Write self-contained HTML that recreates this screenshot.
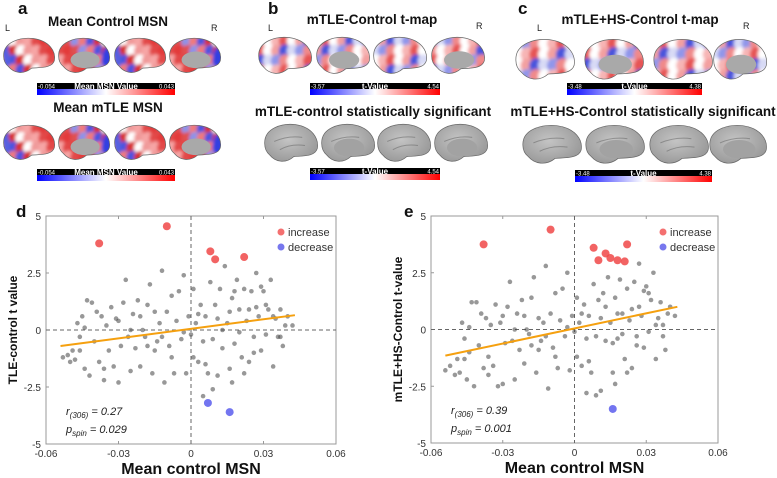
<!DOCTYPE html>
<html><head><meta charset="utf-8"><style>
body{margin:0;background:#fff;width:777px;height:478px;overflow:hidden;font-family:"Liberation Sans",sans-serif}
svg{display:block}
</style></head><body>
<svg id="fig" width="777" height="478" viewBox="0 0 777 478">
<defs>
<linearGradient id="cb" x1="0" x2="1" y1="0" y2="0"><stop offset="0" stop-color="#0000ff"/><stop offset="0.5" stop-color="#ffffff"/><stop offset="1" stop-color="#ff0000"/></linearGradient>
<radialGradient id="gr" cx="0.45" cy="0.4" r="0.75"><stop offset="0" stop-color="#c4c4c4"/><stop offset="1" stop-color="#8c8c8c"/></radialGradient>
<filter id="bl" x="-10%" y="-10%" width="120%" height="120%"><feGaussianBlur stdDeviation="1.6"/></filter>
</defs>
<g font-weight="bold" font-size="17" fill="#111">
<text x="18" y="14">a</text>
<text x="268" y="14">b</text>
<text x="518" y="14">c</text>
<text x="16" y="217">d</text>
<text x="404" y="217">e</text>
</g>
<g font-weight="bold" font-size="13.5" fill="#111" text-anchor="middle">
<text x="108" y="26">Mean Control MSN</text>
<text x="108" y="112">Mean mTLE MSN</text>
<text x="372" y="24">mTLE-Control t-map</text>
<text x="373" y="116">mTLE-control statistically significant</text>
<text x="640" y="24">mTLE+HS-Control t-map</text>
<text x="643" y="116">mTLE+HS-Control statistically significant</text>
</g>
<g font-size="9" fill="#222">
<text x="5" y="31">L</text><text x="211" y="31">R</text>
<text x="268" y="31">L</text><text x="476" y="29">R</text>
<text x="537" y="31">L</text><text x="743" y="29">R</text>
</g>
<g id="brains"></g>
<g id="bars"></g>
<g id="plotd"></g>
<g id="plote"></g>
</svg>
<script>
const NS='http://www.w3.org/2000/svg';
function mk(tag,attrs,parent){const e=document.createElementNS(NS,tag);for(const k in attrs)e.setAttribute(k,attrs[k]);parent.appendChild(e);return e;}
// ---------- brains (decorative) ----------
const brainsG=document.getElementById('brains');
let bid=0;
function brain(x,y,w,h,medial,mode){
  bid++;
  const g=mk('g',{},brainsG);
  
  
  const cp=mk('clipPath',{id:'cp'+bid},g);
  const d=`M${x+w*0.03},${y+h*0.5} C${x+w*0.02},${y+h*0.12} ${x+w*0.35},${y} ${x+w*0.58},${y+h*0.04} C${x+w*0.88},${y+h*0.1} ${x+w},${y+h*0.38} ${x+w*0.97},${y+h*0.62} C${x+w*0.93},${y+h*0.82} ${x+w*0.72},${y+h*0.8} ${x+w*0.55},${y+h*0.82} C${x+w*0.4},${y+h*1.0} ${x+w*0.22},${y+h*0.95} ${x+w*0.12},${y+h*0.78} C${x+w*0.05},${y+h*0.7} ${x+w*0.03},${y+h*0.6} ${x+w*0.03},${y+h*0.5}Z`;
  mk('path',{d:d},cp);
  const inner=mk('g',{'clip-path':`url(#cp${bid})`},g);
  if(mode==='grey'){
    mk('rect',{x:x,y:y,width:w,height:h,fill:'url(#gr)'},inner);
    const s=mk('g',{stroke:'#6e6e6e','stroke-width':1,fill:'none',opacity:0.6},inner);
    mk('path',{d:`M${x+w*0.2},${y+h*0.45} Q${x+w*0.45},${y+h*0.3} ${x+w*0.7},${y+h*0.35}`},s);
    mk('path',{d:`M${x+w*0.3},${y+h*0.65} Q${x+w*0.5},${y+h*0.5} ${x+w*0.75},${y+h*0.55}`},s);
  } else {
    mk('rect',{x:x,y:y,width:w,height:h,fill:mode==='msn'?'#ef8a8a':'#f3c4c4'},inner);
    const cols=mode==='msn'?['#e33a3a','#f07a7a','#ffffff','#e24848','#8d93e8','#d83030','#f6a5a5','#e05050','#4a55e0','#f09a9a']:['#f08a8a','#ffffff','#9096ea','#e65555','#d8daf5','#f7b5b5','#4a54dc','#ffffff','#f3a0a0'];
    const fg=mk('g',{filter:'url(#bl)'},inner);
    for(let i=0;i<7;i++)for(let j=0;j<4;j++){
      const c=cols[(i*7+j*3+bid*5)%cols.length];
      mk('ellipse',{cx:x+(i+0.5)*w/7,cy:y+(j+0.5)*h/4,rx:w/9,ry:h/6,fill:c},fg);
    }
    if(medial&&mode==='msn')mk('ellipse',{cx:x+w*0.95,cy:y+h*0.55,rx:w*0.12,ry:h*0.3,fill:'#3340e0'},fg);
    if(mode==='msn'&&!medial)mk('ellipse',{cx:x+w*0.08,cy:y+h*0.55,rx:w*0.07,ry:h*0.25,fill:'#5560e0'},fg);
  }
  if(medial)mk('ellipse',{cx:x+w*0.52,cy:y+h*0.6,rx:w*0.27,ry:h*0.22,fill:mode==='grey'?'#a2a2a2':'#a9a9a9'},inner);
  mk('path',{d:d,fill:'none',stroke:'#666','stroke-width':0.7},g);
}
[[2,37],[57,37],[113,37],[168,37]].forEach((p,i)=>brain(p[0],p[1],54,38,i%2==1,'msn'));
[[2,124],[57,124],[113,124],[168,124]].forEach((p,i)=>brain(p[0],p[1],54,38,i%2==1,'msn'));
[[257,36],[315,36],[372,36],[430,36]].forEach((p,i)=>brain(p[0],p[1],56,40,i%2==1,'t'));
[[263,123],[320,123],[376,123],[433,123]].forEach((p,i)=>brain(p[0],p[1],56,41,i%2==1,'grey'));
[[514,38],[583,38],[652,38],[712,38]].forEach((p,i)=>brain(p[0],p[1],i==3?56:62,44,i%2==1,'t'));
[[521,124],[584,124],[648,124],[708,124]].forEach((p,i)=>brain(p[0],p[1],i==3?60:62,42,i%2==1,'grey'));
// ---------- colorbars ----------
const barsG=document.getElementById('bars');
function cbar(x,y,w,lo,hi,label){
  const g=mk('g',{},barsG);
  
  
  mk('rect',{x:x,y:y,width:w,height:6,fill:'#000'},g);
  mk('rect',{x:x,y:y+6,width:w,height:6,fill:'url(#cb)'},g);
  const t1=mk('text',{x:x+1,y:y+5.5,'font-size':6,fill:'#fff'},g);t1.textContent=lo;
  const t2=mk('text',{x:x+w-1,y:y+5.5,'font-size':6,fill:'#fff','text-anchor':'end'},g);t2.textContent=hi;
  const t3=mk('text',{x:x+w/2,y:y+6,'font-size':8,'font-weight':'bold',fill:'#fff','text-anchor':'middle'},g);t3.textContent=label;
}
cbar(37,83,138,'-0.054','0.043','Mean MSN Value');
cbar(37,169,138,'-0.054','0.043','Mean MSN Value');
cbar(310,83,130,'-3.57','4.54','t-Value');
cbar(310,168,130,'-3.57','4.54','t-Value');
cbar(567,83,135,'-3.48','4.38','t-Value');
cbar(575,170,137,'-3.48','4.38','t-Value');

// ---------- scatter data ----------
const xTicks=[-0.06,-0.03,0,0.03,0.06];
const xTickLabels=['-0.06','-0.03','0','0.03','0.06'];
const yTicks=[-5,-2.5,0,2.5,5];
const yTickLabels=['-5','-2.5','0','2.5','5'];
const dGrey=[[-0.053,-1.2],[-0.051,-1.1],[-0.05,-1.4],[-0.049,-0.9],[-0.048,-1.3],[-0.047,0.3],[-0.046,-0.3],[-0.045,0.6],[-0.044,-1.7],[-0.043,1.3],[-0.042,-2.0],[-0.041,1.2],[-0.04,-0.5],[-0.039,0.8],[-0.038,-1.4],[-0.037,0.6],[-0.036,-1.7],[-0.035,0.2],[-0.034,-0.9],[-0.033,1.0],[-0.032,-1.6],[-0.031,0.5],[-0.03,-2.3],[-0.029,-0.7],[-0.028,1.2],[-0.027,2.2],[-0.026,-0.3],[-0.025,-1.8],[-0.024,0.7],[-0.023,-0.8],[-0.022,1.3],[-0.021,-1.6],[-0.02,0.0],[-0.019,-0.3],[-0.018,1.1],[-0.017,2.0],[-0.016,-1.9],[-0.015,0.8],[-0.014,-0.5],[-0.013,0.3],[-0.012,2.6],[-0.011,-2.3],[-0.01,0.8],[-0.009,-0.7],[-0.008,1.5],[-0.007,-1.9],[-0.006,0.4],[-0.005,1.7],[-0.004,-0.4],[-0.003,2.4],[-0.002,-1.9],[-0.001,0.6],[0.0,-0.2],[0.001,-1.2],[0.002,0.3],[0.003,-1.4],[0.004,1.1],[0.005,-0.5],[0.005,-2.9],[0.006,0.6],[0.007,-1.9],[0.008,2.1],[0.009,-0.4],[0.01,1.1],[0.011,-2.0],[0.012,1.8],[0.013,-0.8],[0.014,2.8],[0.015,0.3],[0.016,-1.7],[0.017,1.4],[0.018,-0.6],[0.019,2.2],[0.02,0.9],[0.021,-1.2],[0.022,1.8],[0.023,0.4],[0.024,-1.4],[0.025,1.7],[0.026,-0.3],[0.027,2.5],[0.028,0.6],[0.029,-0.9],[0.03,1.7],[0.031,-0.2],[0.032,0.9],[0.033,2.2],[0.034,-1.6],[0.035,0.5],[0.036,-0.3],[0.037,0.9],[0.038,-0.7],[0.039,0.2],[0.04,0.6],[0.042,0.2],[0.013,0.0],[0.02,-0.1],[-0.003,-0.1],[-0.025,0.0],[0.027,1.0],[0.031,1.1],[0.017,-2.3],[0.009,-2.6],[-0.012,-0.3],[-0.046,-0.9],[-0.044,0.1],[-0.036,-2.2],[-0.03,0.4],[-0.018,-0.7],[-0.008,-1.2],[0.003,0.7],[0.011,0.5],[0.018,1.7],[0.024,0.9],[0.029,1.9],[0.034,0.6],[0.037,-0.3],[0.006,-1.5],[0.022,-1.9],[0.016,0.8],[-0.015,-0.9],[-0.021,0.6],[0.001,1.8],[0.026,-1.0]];
const dRed=[[-0.038,3.8],[-0.01,4.55],[0.008,3.45],[0.01,3.1],[0.022,3.2]];
const dBlue=[[0.007,-3.2],[0.016,-3.6]];
const dFit=[[-0.054,-0.7],[0.043,0.65]];
const eGrey=[[-0.054,-1.8],[-0.052,-1.6],[-0.05,-2.0],[-0.049,-1.3],[-0.048,-1.9],[-0.047,0.3],[-0.046,-0.4],[-0.045,-2.2],[-0.044,-1.0],[-0.043,1.2],[-0.042,-2.5],[-0.041,1.2],[-0.04,-0.7],[-0.039,0.7],[-0.038,-1.7],[-0.037,0.5],[-0.036,-2.0],[-0.035,0.2],[-0.034,-1.6],[-0.033,1.1],[-0.032,-2.5],[-0.031,0.3],[-0.03,-2.4],[-0.029,-0.6],[-0.028,1.0],[-0.027,2.1],[-0.026,-0.5],[-0.025,-2.2],[-0.024,0.7],[-0.023,-0.9],[-0.022,1.3],[-0.021,-1.5],[-0.02,0.0],[-0.019,-0.2],[-0.018,1.4],[-0.017,2.3],[-0.016,-1.9],[-0.015,0.5],[-0.014,-0.5],[-0.013,0.3],[-0.012,2.8],[-0.011,-2.6],[-0.01,0.7],[-0.009,-0.8],[-0.008,1.6],[-0.007,-1.7],[-0.006,0.4],[-0.005,1.8],[-0.004,-0.3],[-0.003,2.5],[-0.002,-1.8],[-0.001,0.6],[0.0,-0.1],[0.001,-1.2],[0.002,0.3],[0.003,-1.6],[0.004,1.1],[0.005,-0.4],[0.005,-2.8],[0.006,0.6],[0.007,-1.9],[0.008,2.0],[0.009,-0.3],[0.01,1.3],[0.011,-2.7],[0.012,1.6],[0.013,-0.5],[0.014,2.3],[0.015,0.3],[0.016,-1.9],[0.017,1.4],[0.018,-0.4],[0.019,2.2],[0.02,0.7],[0.021,-1.3],[0.022,1.8],[0.023,0.4],[0.024,-1.7],[0.025,2.1],[0.026,-0.3],[0.027,2.9],[0.028,0.6],[0.029,-0.8],[0.03,1.9],[0.031,-0.1],[0.032,1.3],[0.033,2.5],[0.034,-1.3],[0.035,0.5],[0.036,1.2],[0.037,0.2],[0.038,-0.9],[0.039,0.7],[0.04,1.0],[0.042,0.6],[0.013,1.0],[0.02,-0.2],[-0.003,0.1],[-0.025,0.0],[0.027,1.0],[0.031,1.6],[0.017,-2.4],[0.009,-2.9],[-0.012,-0.3],[-0.046,-1.3],[-0.044,0.1],[-0.036,-1.2],[-0.03,0.6],[-0.018,-0.7],[-0.008,-1.2],[0.003,0.7],[0.011,0.5],[0.018,0.7],[0.024,0.9],[0.029,1.7],[0.034,0.2],[0.037,-0.3],[0.006,-1.4],[0.022,-1.9],[0.016,-0.6],[-0.015,-0.9],[-0.021,0.6],[0.001,1.4],[0.026,-0.7]];
const eRed=[[-0.038,3.75],[-0.01,4.4],[0.008,3.6],[0.01,3.05],[0.013,3.35],[0.015,3.15],[0.018,3.05],[0.021,3.0],[0.022,3.75]];
const eBlue=[[0.016,-3.5]];
const eFit=[[-0.054,-1.15],[0.043,1.0]];

function plot(gid,L,R,T,B,ytitle,grey,red,blue,fit,rtxt,ptxt){
  const g=document.getElementById(gid);
  const sx=v=>L+(v+0.06)/0.12*(R-L);
  const sy=v=>T+(5-v)/10*(B-T);
  const frame=mk('rect',{x:L,y:T,width:R-L,height:B-T,fill:'none',stroke:'#999','stroke-width':1},g);
  
  
  xTicks.forEach((v,i)=>{
    mk('line',{x1:sx(v),x2:sx(v),y1:B,y2:B-3,stroke:'#999'},g);
    mk('line',{x1:sx(v),x2:sx(v),y1:T,y2:T+3,stroke:'#999'},g);
    const t=mk('text',{x:sx(v),y:B+13,'font-size':10,fill:'#333','text-anchor':'middle'},g);
    
    
    t.textContent=xTickLabels[i];
  });
  yTicks.forEach((v,i)=>{
    mk('line',{x1:L,x2:L+3,y1:sy(v),y2:sy(v),stroke:'#999'},g);
    const t=mk('text',{x:L-5,y:sy(v)+4,'font-size':10,fill:'#333','text-anchor':'end'},g);
    
    
    t.textContent=yTickLabels[i];
  });
  mk('line',{x1:sx(0),x2:sx(0),y1:T,y2:B,stroke:'#666','stroke-dasharray':'4,3'},g);
  mk('line',{x1:L,x2:R,y1:sy(0),y2:sy(0),stroke:'#666','stroke-dasharray':'4,3'},g);
  grey.forEach(p=>{
    const c=mk('circle',{cx:sx(p[0]),cy:sy(p[1]),r:2.3,fill:'#444','fill-opacity':0.55},g);
    
    
  });
  const ln=mk('line',{x1:sx(fit[0][0]),y1:sy(fit[0][1]),x2:sx(fit[1][0]),y2:sy(fit[1][1]),stroke:'#f5a00f','stroke-width':2},g);
  
  
  red.forEach(p=>{
    const c=mk('circle',{cx:sx(p[0]),cy:sy(p[1]),r:4,fill:'#f04848','fill-opacity':0.85},g);
    
    
  });
  blue.forEach(p=>{
    const c=mk('circle',{cx:sx(p[0]),cy:sy(p[1]),r:4,fill:'#6466ee','fill-opacity':0.9},g);
    
    
  });
  const lg=mk('g',{},g);
  
  
  mk('circle',{cx:R-55,cy:T+16,r:3.5,fill:'#f47070'},lg);
  const t1=mk('text',{x:R-48,y:T+20,'font-size':11,fill:'#333'},lg);t1.textContent='increase';
  mk('circle',{cx:R-55,cy:T+31,r:3.5,fill:'#7777ee'},lg);
  const t2=mk('text',{x:R-48,y:T+35,'font-size':11,fill:'#333'},lg);t2.textContent='decrease';
  const st=mk('text',{x:L+20,y:B-29,'font-size':11,'font-style':'italic',fill:'#222'},g);
  
  
  st.innerHTML='r<tspan font-size="8" dy="3">(306)</tspan><tspan dy="-3"> = '+rtxt+'</tspan>';
  const sp=mk('text',{x:L+20,y:B-11,'font-size':11,'font-style':'italic',fill:'#222'},g);
  
  
  sp.innerHTML='p<tspan font-size="8" dy="3">spin</tspan><tspan dy="-3"> = '+ptxt+'</tspan>';
  const xt=mk('text',{x:(L+R)/2,y:B+30,'font-size':16,'font-weight':'bold',fill:'#111','text-anchor':'middle'},g);
  
  
  xt.textContent='Mean control MSN';
  const yt=mk('text',{x:0,y:0,'font-size':12,'font-weight':'bold',fill:'#111','text-anchor':'middle',transform:`translate(${L-29},${(T+B)/2}) rotate(-90)`},g);
  
  
  yt.textContent=ytitle;
}
plot('plotd',46,336,216,444,'TLE-control t value',dGrey,dRed,dBlue,dFit,'0.27','0.029');
plot('plote',431,718,216,443,'mTLE+HS-Control t-value',eGrey,eRed,eBlue,eFit,'0.39','0.001');
</script>
</body></html>
